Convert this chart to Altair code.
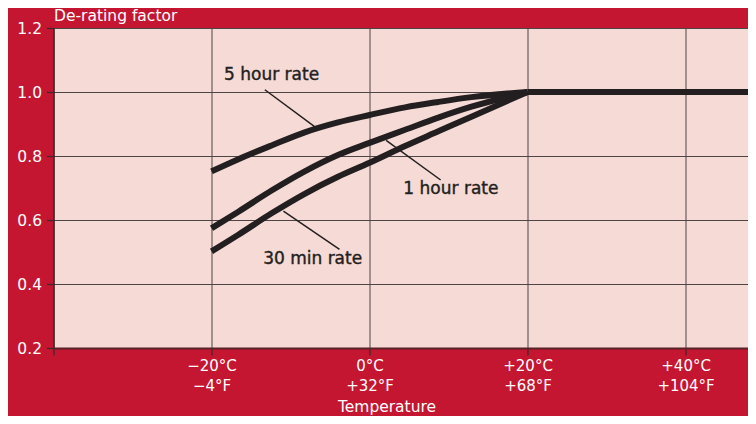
import altair as alt
import pandas as pd

# ---- data ----
temp_c = [-20, -16.6, -12.4, -8.2, -4.0, 0, 4.5, 8.7, 12.9, 20]
rate_5h = [0.752, 0.790, 0.833, 0.874, 0.905, 0.928, 0.952, 0.969, 0.984, 1.0]
rate_1h = [0.574, 0.626, 0.692, 0.752, 0.803, 0.841, 0.882, 0.920, 0.954, 1.0]
rate_30m = [0.502, 0.554, 0.621, 0.682, 0.735, 0.779, 0.831, 0.877, 0.923, 1.0]
series_names = ["5 hour rate", "1 hour rate", "30 min rate"]

flat_temp = [20, 50]
flat_value = [1.0, 1.0]

label_text = ["5 hour rate", "1 hour rate", "30 min rate"]
label_x = [-12.4, 10.3, -7.2]
label_y = [1.052, 0.698, 0.477]
leader_x1 = [-13.25, 2.1, -10.9]
leader_y1 = [1.007, 0.849, 0.628]
leader_x2 = [-6.7, 9.0, -3.8]
leader_y2 = [0.887, 0.725, 0.508]

x_ticks = [-40, -20, 0, 20, 40]
x_labels_c = ["", "\u221220\u00b0C", "0\u00b0C", "+20\u00b0C", "+40\u00b0C"]
x_labels_f = ["", "\u22124\u00b0F", "+32\u00b0F", "+68\u00b0F", "+104\u00b0F"]
y_ticks = [0.2, 0.4, 0.6, 0.8, 1.0, 1.2]

# ---- tables ----
rows = []
for name, vals in zip(series_names, [rate_5h, rate_1h, rate_30m]):
    for t, v in zip(temp_c, vals):
        rows.append({"series": name, "temp": t, "value": v})
curves = pd.DataFrame(rows)
flat = pd.DataFrame({"temp": flat_temp, "value": flat_value})
labels = pd.DataFrame({"text": label_text, "x": label_x, "y": label_y})
leaders = pd.DataFrame({"x1": leader_x1, "y1": leader_y1, "x2": leader_x2, "y2": leader_y2})

# label expression for two-line temperature labels
expr = "''"
for v, c, f in reversed(list(zip(x_ticks, x_labels_c, x_labels_f))):
    if c:
        expr = f"datum.value == {v} ? ['{c}', '{f}'] : ({expr})"

FONT = "DejaVu Sans"
INK = "#231f20"
RED = "#c51631"

x_scale = alt.Scale(domain=[-40, 47.9], nice=False, zero=False)
y_scale = alt.Scale(domain=[0.2, 1.2], nice=False, zero=False)

x_axis = alt.Axis(
    values=x_ticks, labelExpr=expr, grid=True, gridColor="#4d4545", gridWidth=1,
    domainColor="#5a2228", domainWidth=2, tickColor="#3a2a2a", tickSize=7, tickWidth=1.2,
    labelColor="white", labelFont=FONT, labelFontSize=15, labelLineHeight=20,
    labelPadding=3, labelBaseline="top",
    title="Temperature", titleColor="white", titleFont=FONT, titleFontSize=15.5,
    titleFontWeight="normal", titleX=333, titleY=58, titleAlign="center",
    titleBaseline="middle", titleAnchor="start",
)
y_axis = alt.Axis(
    values=y_ticks, format=".1f", grid=True, gridColor="#4d4545", gridWidth=1,
    domainColor="#3a2a2a", domainWidth=1.5, tickColor="#3a2a2a", tickSize=7, tickWidth=1.2,
    labelColor="white", labelFont=FONT, labelFontSize=15.5, labelPadding=5,
    title="De-rating factor", titleColor="white", titleFont=FONT, titleFontSize=15.5,
    titleFontWeight="normal", titleAngle=0, titleAlign="left", titleX=0, titleY=-13,
    titleBaseline="middle", titleAnchor="start",
)

lines = alt.Chart(curves).mark_line(
    interpolate="monotone", strokeWidth=6, color=INK, strokeCap="butt", clip=True
).encode(
    x=alt.X("temp:Q", scale=x_scale, axis=x_axis),
    y=alt.Y("value:Q", scale=y_scale, axis=y_axis),
    detail="series:N",
)

flat_line = alt.Chart(flat).mark_line(strokeWidth=6, color=INK, strokeCap="butt", clip=True).encode(
    x=alt.X("temp:Q", scale=x_scale),
    y=alt.Y("value:Q", scale=y_scale),
)

rules = alt.Chart(leaders).mark_rule(color=INK, strokeWidth=1.5).encode(
    x=alt.X("x1:Q", scale=x_scale), y=alt.Y("y1:Q", scale=y_scale),
    x2="x2:Q", y2="y2:Q",
)

texts = alt.Chart(labels).mark_text(
    font=FONT, fontSize=17, color=INK, align="center", baseline="middle",
    stroke=INK, strokeWidth=0.4,
).encode(
    x=alt.X("x:Q", scale=x_scale), y=alt.Y("y:Q", scale=y_scale), text="text:N",
)

chart = alt.layer(lines, flat_line, rules, texts).properties(
    width=694.5, height=320,
    autosize=alt.AutoSizeParams(type="none"),
    padding={"left": 45.5, "top": 20, "right": 0, "bottom": 68},
    background=RED,
).configure_view(fill="#f6dad6", stroke="transparent")

chart.save("out.html", embed_options={"renderer": "svg", "actions": False})
